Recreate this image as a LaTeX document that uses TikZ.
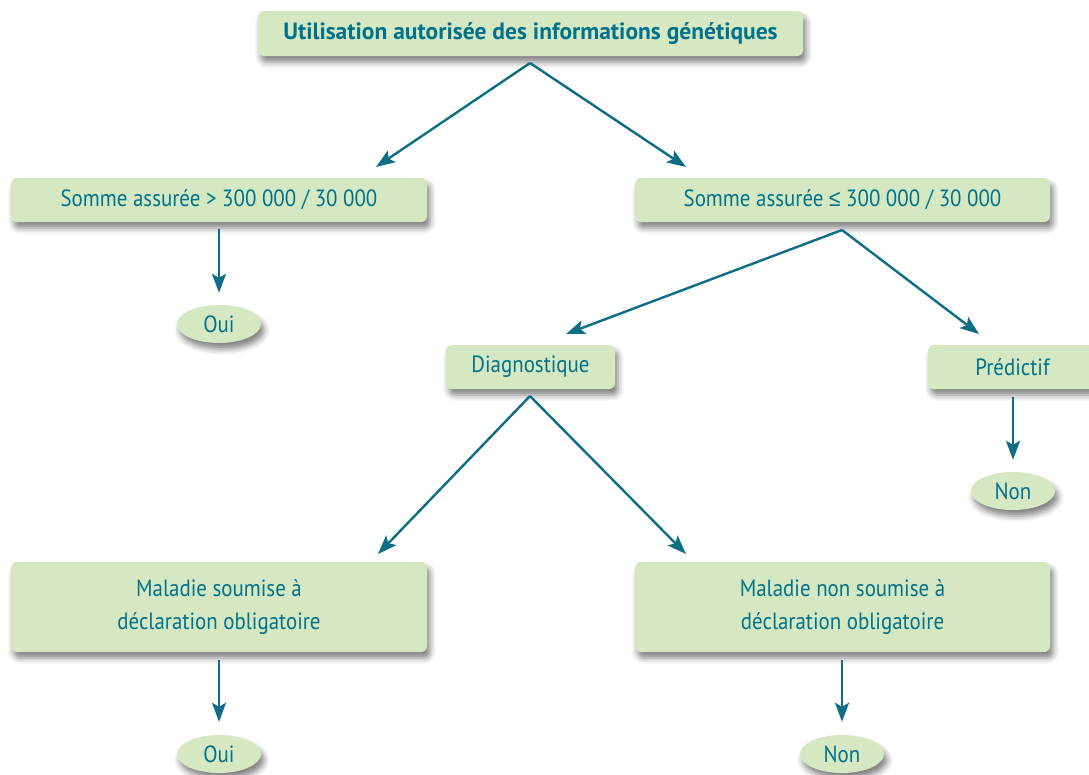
\documentclass[tikz,border=0pt]{standalone}
\usepackage{fontspec}
\setmainfont{PT Sans}[FakeStretch=0.89,BoldFeatures={FakeStretch=1.0}]
\newfontfamily\symfont{Liberation Sans}[FakeStretch=0.89]
\usetikzlibrary{arrows.meta,shapes.geometric,shadows.blur}
\definecolor{boxfill}{HTML}{D6E8C2}
\definecolor{txt}{HTML}{00728C}
\definecolor{arrcol}{HTML}{0D6E86}
\begin{document}
\begin{tikzpicture}[x=1pt,y=-1pt,
  shd/.style={blur shadow={shadow xshift=3pt,shadow yshift=-6pt,shadow blur radius=6pt,shadow opacity=50}},
  box/.style={rectangle,rounded corners=6pt,fill=boxfill,text=txt,inner sep=0pt,align=center,shd,
    font=\fontsize{23.5}{33}\selectfont},
  oval/.style={ellipse,fill=boxfill,text=txt,inner sep=0pt,minimum width=84pt,minimum height=38pt,shd,
    font=\fontsize{23.5}{26}\selectfont},
  arr/.style={draw=arrcol,line width=2.4pt,line join=miter,-{Stealth[length=19pt,width=14pt,inset=4pt]}}]
\useasboundingbox (0,0) rectangle (1089,774);
% boxes
\node[box,minimum width=545pt,minimum height=45pt,font=\bfseries\fontsize{23.5}{26}\selectfont] (top) at (530.5,33.5) {Utilisation autorisée des informations génétiques};
\node[box,minimum width=416pt,minimum height=44pt] (l1) at (219,200) {Somme assurée > 300 000 / 30 000};
\node[box,minimum width=415pt,minimum height=44pt] (r1) at (842.5,200) {Somme assurée {\symfont ≤} 300 000 / 30 000};
\node[oval] (oui1) at (219,324) {Oui};
\node[box,minimum width=169pt,minimum height=44pt] (diag) at (530.5,367) {Diagnostique};
\node[box,minimum width=169pt,minimum height=44pt] (pred) at (1012.5,367) {Prédictif};
\node[oval] (non1) at (1013,491) {Non};
\node[box,minimum width=416pt,minimum height=90pt] (l3) at (219,607) {Maladie soumise à\\déclaration obligatoire};
\node[box,minimum width=415pt,minimum height=90pt] (r3) at (842.5,607) {Maladie non soumise à\\déclaration obligatoire};
\node[oval] (oui2) at (219,754) {Oui};
\node[oval] (non2) at (842,754) {Non};
% connector points
\coordinate (a0) at (530,63);
\coordinate (a1) at (376,167);
\coordinate (a2) at (686,167);
\coordinate (b0) at (842,230);
\coordinate (b1) at (566,334);
\coordinate (b2) at (979,334);
\coordinate (c0) at (530,396);
\coordinate (c1) at (378,554);
\coordinate (c2) at (686,554);
% connectors
\draw[arr] (a0) -- (a1);
\draw[arr] (a0) -- (a2);
\draw[arr] (b0) -- (b1);
\draw[arr] (b0) -- (b2);
\draw[arr] (c0) -- (c1);
\draw[arr] (c0) -- (c2);
\draw[arr] ([yshift=-7pt]l1.south) -- ([yshift=12pt]oui1.north);
\draw[arr] ([yshift=-8pt]pred.south -| non1.north) -- ([yshift=12pt]non1.north);
\draw[arr] ([yshift=-8pt]l3.south) -- ([yshift=13pt]oui2.north);
\draw[arr] ([yshift=-8pt]r3.south -| non2.north) -- ([yshift=13pt]non2.north);
\end{tikzpicture}
\end{document}
